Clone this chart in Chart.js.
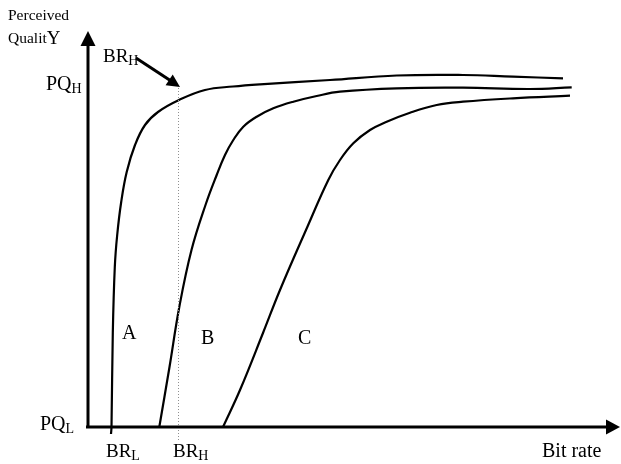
<!DOCTYPE html>
<html>
<head>
<meta charset="utf-8">
<title>Perceived quality vs bit rate</title>
<script src="https://cdn.jsdelivr.net/npm/chart.js@4"></script>
<style>
    html, body { margin: 0; padding: 0; background: #fff; }
    #wrap { width: 621px; height: 464px; position: relative; }
</style>
</head>
<body>
<div id="wrap"><canvas id="chart"></canvas></div>
<script>
// Courbe A
const bitRateA = [23, 23.5, 24.8, 26.8, 29.2, 33.2, 38.7, 47, 57, 70, 91, 117, 145, 172, 242, 308.7, 375, 425, 475];
const qualityA = [-7, 0, 94, 160, 192, 225, 255, 282, 302, 315, 327, 337, 340.5, 342.7, 347, 351.5, 352, 350.3, 348.7];

// Courbe B
const bitRateB = [71.3, 81.5, 91.3, 103.5, 117.5, 128.7, 137, 145.3, 155.3, 168.7, 185.3, 205.3, 228.7, 252, 308.7, 375, 442, 483.7];
const qualityB = [0, 60, 120, 177, 222, 252, 272, 287, 300.3, 310.3, 318.7, 325.3, 331, 335.3, 338.7, 339.3, 338, 339.7];

// Courbe C
const bitRateC = [135, 152, 175, 192, 218, 240.3, 252, 265.3, 282, 298.7, 322, 348.7, 375, 425, 482];
const qualityC = [0, 37, 94, 137, 197, 247, 267, 283.7, 297, 305.3, 314.3, 322, 325.3, 328.7, 331.3];

// Noms des courbes et repères des axes
const curveNames = ['A', 'B', 'C'];
const brTickValues = [23, 90];
const brTickSubs = ['L', 'H'];
const pqTickValues = [0, 337];
const pqTickSubs = ['L', 'H'];

const SERIF = '"Liberation Serif", "Times New Roman", serif';

function toPoints(xs, ys) {
    return xs.map((v, i) => ({ x: v, y: ys[i] }));
}

function curve(label, xs, ys) {
    return {
        label: label,
        data: toPoints(xs, ys),
        showLine: true,
        borderColor: '#000',
        borderWidth: 2.2,
        pointRadius: 0,
        tension: 0.4,
        fill: false
    };
}

// Texte avec indice (ex : PQ_H)
function drawSub(ctx, main, sub, px, py, size, subSize) {
    ctx.font = size + 'px ' + SERIF;
    ctx.fillText(main, px, py);
    const w = ctx.measureText(main).width;
    ctx.font = subSize + 'px ' + SERIF;
    ctx.fillText(sub, px + w, py + 3);
}

function arrowHead(ctx, fromX, fromY, toX, toY, len, half) {
    const a = Math.atan2(toY - fromY, toX - fromX);
    ctx.beginPath();
    ctx.moveTo(toX, toY);
    ctx.lineTo(toX - len * Math.cos(a) + half * Math.sin(a), toY - len * Math.sin(a) - half * Math.cos(a));
    ctx.lineTo(toX - len * Math.cos(a) - half * Math.sin(a), toY - len * Math.sin(a) + half * Math.cos(a));
    ctx.closePath();
    ctx.fill();
}

const sketchAxes = {
    id: 'sketchAxes',
    afterDatasetsDraw(chart) {
        const { ctx, scales: { x, y } } = chart;
        const x0 = x.getPixelForValue(0);
        const y0 = y.getPixelForValue(0);
        ctx.save();
        ctx.fillStyle = '#000';
        ctx.strokeStyle = '#000';

        // Ligne pointillée au niveau BR_H
        const xh = x.getPixelForValue(brTickValues[1]);
        ctx.save();
        ctx.strokeStyle = '#8f8f8f';
        ctx.lineWidth = 1;
        ctx.setLineDash([1, 2]);
        ctx.beginPath();
        ctx.moveTo(xh + 0.5, y.getPixelForValue(339));
        ctx.lineTo(xh + 0.5, y.getPixelForValue(-13));
        ctx.stroke();
        ctx.restore();

        // Axes
        const xEnd = x.getPixelForValue(532);
        const yEnd = y.getPixelForValue(396);
        ctx.lineWidth = 3;
        ctx.beginPath();
        ctx.moveTo(x.getPixelForValue(-2), y0);
        ctx.lineTo(xEnd - 10, y0);
        ctx.moveTo(x0, y0);
        ctx.lineTo(x0, yEnd + 10);
        ctx.stroke();
        arrowHead(ctx, x0, y0, xEnd, y0, 14, 7.5);
        arrowHead(ctx, x0, y0, x0, yEnd, 15, 7.5);

        // Flèche vers BR_H
        const ax1 = x.getPixelForValue(48), ay1 = y.getPixelForValue(369);
        const ax2 = x.getPixelForValue(92), ay2 = y.getPixelForValue(340);
        ctx.lineWidth = 3;
        ctx.beginPath();
        ctx.moveTo(ax1, ay1);
        ctx.lineTo(ax1 + (ax2 - ax1) * 0.78, ay1 + (ay2 - ay1) * 0.78);
        ctx.stroke();
        arrowHead(ctx, ax1, ay1, ax2, ay2, 13, 6.5);

        // Textes
        ctx.textBaseline = 'alphabetic';
        ctx.textAlign = 'left';
        ctx.font = '15.5px ' + SERIF;
        ctx.fillText('Perceived', 8, 20);
        ctx.fillText('Qualit', 8, 43);
        const wq = ctx.measureText('Qualit').width;
        ctx.font = '19px ' + SERIF;
        ctx.fillText('Y', 8 + wq, 44);

        drawSub(ctx, 'BR', 'H', 103, 62, 19, 14);

        // Repères Y
        drawSub(ctx, 'PQ', pqTickSubs[1], 46, y.getPixelForValue(pqTickValues[1]), 20, 14);
        drawSub(ctx, 'PQ', pqTickSubs[0], 40, y.getPixelForValue(pqTickValues[0]) + 3, 20, 14);

        // Repères X
        brTickValues.forEach((v, i) => {
            drawSub(ctx, 'BR', brTickSubs[i], x.getPixelForValue(v) - 5, y0 + 30, 19, 14);
        });

        ctx.font = '20px ' + SERIF;
        ctx.fillText('Bit rate', 542, y0 + 30);

        // Noms des courbes
        ctx.fillText(curveNames[0], 122, 339);
        ctx.fillText(curveNames[1], 201, 344);
        ctx.fillText(curveNames[2], 298, 344);

        ctx.restore();
    }
};

new Chart(document.getElementById('chart'), {
    type: 'scatter',
    data: {
        datasets: [
            curve(curveNames[0], bitRateA, qualityA),
            curve(curveNames[1], bitRateB, qualityB),
            curve(curveNames[2], bitRateC, qualityC)
        ]
    },
    options: {
        responsive: true,
        maintainAspectRatio: false,
        animation: false,
        layout: { padding: 0 },
        plugins: {
            legend: { display: false },
            tooltip: { enabled: false }
        },
        scales: {
            x: { type: 'linear', display: false, min: -88, max: 533 },
            y: { type: 'linear', display: false, min: -37, max: 427 }
        }
    },
    plugins: [sketchAxes]
});
</script>
</body>
</html>
